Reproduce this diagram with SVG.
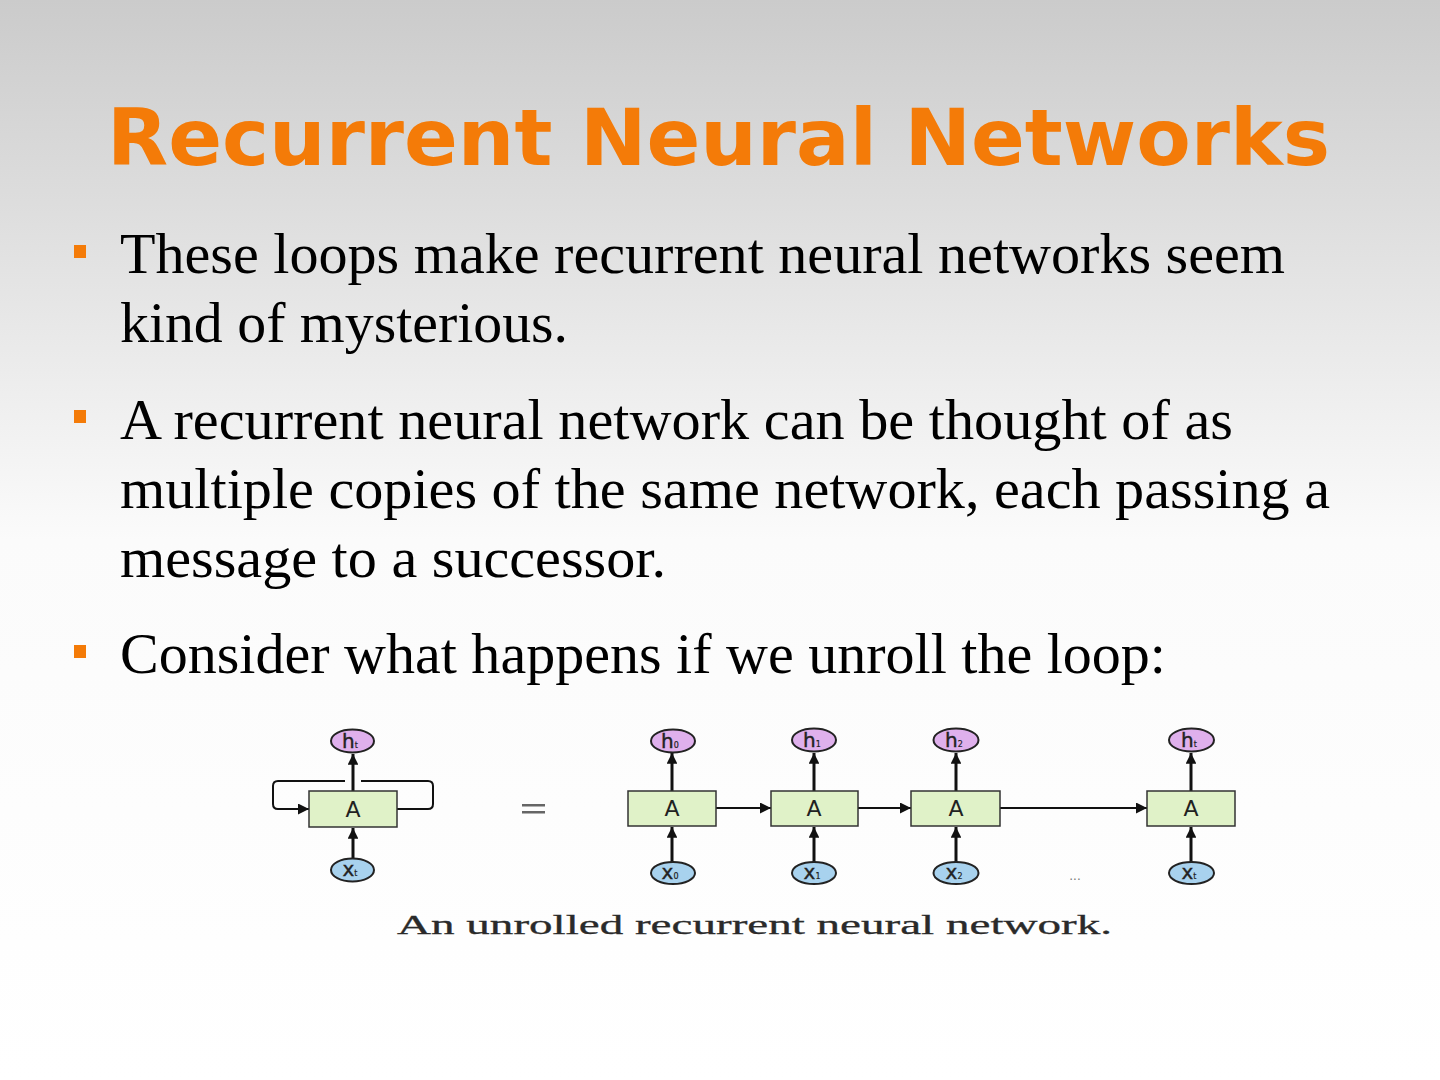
<svg xmlns="http://www.w3.org/2000/svg" width="1440" height="1080" viewBox="0 0 1440 1080">
<defs>
<linearGradient id="bg" x1="0" y1="0" x2="0" y2="1080" gradientUnits="userSpaceOnUse">
<stop offset="0" stop-color="#cbcbcb"/>
<stop offset="0.5" stop-color="#fbfbfb"/>
<stop offset="1" stop-color="#ffffff"/>
</linearGradient>
<marker id="ah" viewBox="0 0 10 10" refX="10" refY="5" markerWidth="3.6" markerHeight="3.6" markerUnits="strokeWidth" orient="auto">
<path d="M0,0 L10,5 L0,10 z" fill="#111"/>
</marker>
<marker id="ahs" viewBox="0 0 10 10" refX="10" refY="5" markerWidth="5.5" markerHeight="5.5" markerUnits="strokeWidth" orient="auto">
<path d="M0,0 L10,5 L0,10 z" fill="#111"/>
</marker>
</defs>
<style>
.title{font-family:"DejaVu Sans",sans-serif;font-weight:bold;font-size:78px;fill:#f47b08}
.body{font-family:"Liberation Serif","Times New Roman",serif;font-size:56px;fill:#000}
.bul{fill:#f47b08}
.box{fill:#e0f2c8;stroke:#333;stroke-width:1.5}
.hn{fill:#dfb0ec;stroke:#222;stroke-width:2}
.xn{fill:#a8d2ee;stroke:#222;stroke-width:2}
.lbl{font-family:"DejaVu Sans",sans-serif;fill:#222;text-anchor:middle}
.A{font-size:22px}
.nl{font-size:20px;stroke:#222;stroke-width:0.4}
.sub{font-size:8px;stroke-width:0.2}
.v{stroke:#111;stroke-width:3;fill:none}
.hz{stroke:#111;stroke-width:2;fill:none}
.cap{font-family:"Liberation Serif",serif;font-size:27px;fill:#2a2a2a;stroke:#2a2a2a;stroke-width:0.3}
</style>
<rect width="1440" height="1080" fill="url(#bg)"/>
<text class="title" x="107" y="165" textLength="1223" lengthAdjust="spacingAndGlyphs">Recurrent Neural Networks</text>
<rect class="bul" x="74" y="245" width="12" height="13"/>
<rect class="bul" x="74" y="410" width="12" height="13"/>
<rect class="bul" x="74" y="645" width="12" height="13"/>
<text class="body" x="120" y="273" textLength="1165" lengthAdjust="spacingAndGlyphs">These loops make recurrent neural networks seem</text>
<text class="body" x="120" y="342" textLength="448" lengthAdjust="spacingAndGlyphs">kind of mysterious.</text>
<text class="body" x="120" y="439" textLength="1113" lengthAdjust="spacingAndGlyphs">A recurrent neural network can be thought of as</text>
<text class="body" x="120" y="508" textLength="1210" lengthAdjust="spacingAndGlyphs">multiple copies of the same network, each passing a</text>
<text class="body" x="120" y="577" textLength="546" lengthAdjust="spacingAndGlyphs">message to a successor.</text>
<text class="body" x="120" y="673" textLength="1046" lengthAdjust="spacingAndGlyphs">Consider what happens if we unroll the loop:</text>
<g id="connectors">
<path class="v" d="M353,791 L353,754" marker-end="url(#ah)"/>
<path class="v" d="M353,858 L353,828" marker-end="url(#ah)"/>
<path class="hz" d="M397,809 H428 Q433,809 433,804 V786 Q433,781 428,781 H361"/>
<path class="hz" d="M345,781 H278 Q273,781 273,786 V804 Q273,809 278,809 H309" marker-end="url(#ahs)"/>
<path class="v" d="M672,791 L672,753" marker-end="url(#ah)"/>
<path class="v" d="M672,862 L672,827" marker-end="url(#ah)"/>
<path class="v" d="M814,791 L814,753" marker-end="url(#ah)"/>
<path class="v" d="M814,862 L814,827" marker-end="url(#ah)"/>
<path class="v" d="M956,791 L956,753" marker-end="url(#ah)"/>
<path class="v" d="M956,862 L956,827" marker-end="url(#ah)"/>
<path class="v" d="M1191,791 L1191,753" marker-end="url(#ah)"/>
<path class="v" d="M1191,862 L1191,827" marker-end="url(#ah)"/>
<path class="hz" d="M716,808 H771" marker-end="url(#ahs)"/>
<path class="hz" d="M858,808 H911" marker-end="url(#ahs)"/>
<path class="hz" d="M1000,808 H1147" marker-end="url(#ahs)"/>
</g>
<g id="loop-A"><rect class="box" x="309" y="791" width="88" height="36"/><text class="lbl A" x="353" y="817">A</text></g>
<g id="loop-h"><ellipse class="hn" cx="352.5" cy="741" rx="21.5" ry="11.5"/><text class="lbl nl" x="350" y="748">h<tspan class="sub">t</tspan></text></g>
<g id="loop-x"><ellipse class="xn" cx="352.5" cy="870" rx="21.5" ry="11.5"/><text class="lbl nl" x="350" y="876">x<tspan class="sub">t</tspan></text></g>
<g id="equals"><rect x="522" y="804" width="23" height="2.5" fill="#666"/><rect x="522" y="811" width="23" height="2.5" fill="#666"/></g>
<g id="A0"><rect class="box" x="628" y="791" width="88" height="35"/><text class="lbl A" x="672" y="816">A</text></g>
<g id="A1"><rect class="box" x="771" y="791" width="87" height="35"/><text class="lbl A" x="814" y="816">A</text></g>
<g id="A2"><rect class="box" x="911" y="791" width="89" height="35"/><text class="lbl A" x="956" y="816">A</text></g>
<g id="At"><rect class="box" x="1147" y="791" width="88" height="35"/><text class="lbl A" x="1191" y="816">A</text></g>
<g id="h0"><ellipse class="hn" cx="673" cy="741" rx="22" ry="11.5"/><text class="lbl nl" x="670" y="748">h<tspan class="sub">0</tspan></text></g>
<g id="h1"><ellipse class="hn" cx="814" cy="740" rx="22" ry="11.5"/><text class="lbl nl" x="812" y="747">h<tspan class="sub">1</tspan></text></g>
<g id="h2"><ellipse class="hn" cx="956" cy="740" rx="22.5" ry="11.5"/><text class="lbl nl" x="954" y="747">h<tspan class="sub">2</tspan></text></g>
<g id="ht"><ellipse class="hn" cx="1191.5" cy="740" rx="22.5" ry="11.5"/><text class="lbl nl" x="1189" y="747">h<tspan class="sub">t</tspan></text></g>
<g id="x0"><ellipse class="xn" cx="673" cy="873" rx="22" ry="11"/><text class="lbl nl" x="670" y="879">x<tspan class="sub">0</tspan></text></g>
<g id="x1"><ellipse class="xn" cx="814" cy="873" rx="22" ry="11"/><text class="lbl nl" x="812" y="879">x<tspan class="sub">1</tspan></text></g>
<g id="x2"><ellipse class="xn" cx="956" cy="873" rx="22.5" ry="11"/><text class="lbl nl" x="954" y="879">x<tspan class="sub">2</tspan></text></g>
<g id="xt"><ellipse class="xn" cx="1191.5" cy="873" rx="22.5" ry="11"/><text class="lbl nl" x="1189" y="879">x<tspan class="sub">t</tspan></text></g>
<text x="1075" y="880" font-family="DejaVu Sans,sans-serif" font-size="12" fill="#777" text-anchor="middle">...</text>
<text class="cap" x="397" y="934" textLength="715" lengthAdjust="spacingAndGlyphs">An unrolled recurrent neural network.</text>
</svg>
